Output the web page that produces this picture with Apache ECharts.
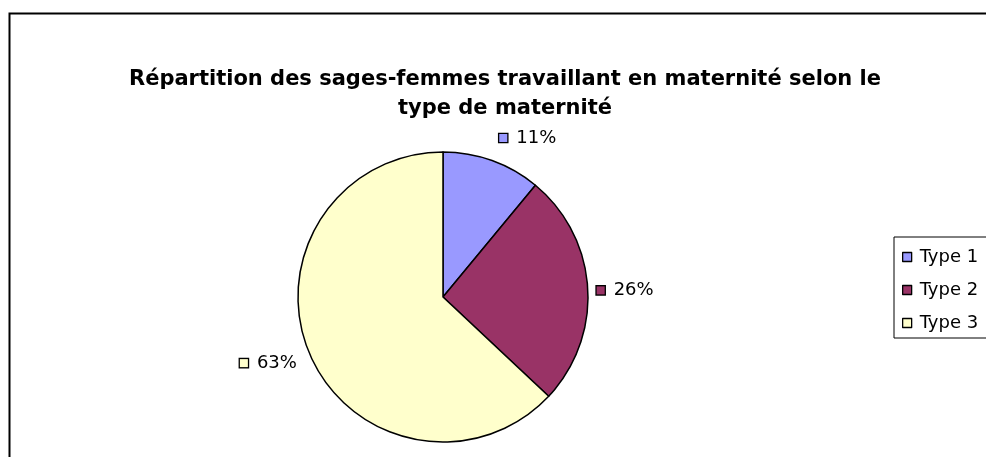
<!DOCTYPE html>
<html>
<head>
<meta charset="utf-8">
<script src="https://cdn.jsdelivr.net/npm/echarts@6/dist/echarts.min.js"></script>
<style>
  html, body { margin: 0; padding: 0; background: #fff; }
  #chart { width: 986px; height: 457px; }
</style>
</head>
<body>
<div id="chart"></div>
<script>
// chart data
const categories = ['Type 1', 'Type 2', 'Type 3'];
const shares = [11, 26, 63];
const colors = ['#9999FF', '#993366', '#FFFFCC'];
const titleText = 'Répartition des sages-femmes travaillant en maternité selon le\ntype de maternité';

const FONT = 'DejaVu Sans, sans-serif';

// Excel puts its labels a bit off the radial line, nudge them
const labelNudge = [[-6, 0], [-20, 4], [14, -1]];

const pieData = categories.map((name, i) => ({
  name: name,
  value: shares[i],
  itemStyle: { color: colors[i] },
  label: {
    formatter: '{k' + i + '|}{s|}{v|{c}%}'
  }
}));

// little legend-key squares inside the data labels
const richStyles = {
  v: { fontSize: 18, fontFamily: FONT, color: '#000' },
  s: { width: 9, height: 9 }
};
colors.forEach((c, i) => {
  richStyles['k' + i] = {
    width: 8, height: 8,
    backgroundColor: c,
    borderColor: '#000', borderWidth: 1.3
  };
});

const chart = echarts.init(document.getElementById('chart'), null, { renderer: 'canvas' });

chart.setOption({
  animation: false,
  backgroundColor: '#fff',
  title: {
    text: titleText,
    left: 500,
    top: 60,
    textAlign: 'center',
    textStyle: {
      fontFamily: FONT,
      fontSize: 21,
      fontWeight: 'bold',
      color: '#000',
      lineHeight: 29
    }
  },
  legend: {
    orient: 'vertical',
    left: 894,
    top: 237,
    padding: [11, 40, 6, 8],
    itemGap: 15,
    itemWidth: 9,
    itemHeight: 9,
    icon: 'rect',
    borderColor: '#000',
    borderWidth: 1,
    itemStyle: { borderColor: '#000', borderWidth: 1.3 },
    textStyle: { fontFamily: FONT, fontSize: 18, color: '#000', padding: [0, 0, 0, 3] },
    data: categories
  },
  graphic: [{
    type: 'rect',
    shape: { x: 9.5, y: 13.5, width: 1100, height: 600 },
    style: { fill: 'none', stroke: '#000', lineWidth: 2 },
    silent: true
  }],
  series: [{
    type: 'pie',
    center: [443, 297],
    radius: 145,
    startAngle: 90,
    clockwise: true,
    data: pieData,
    itemStyle: { borderColor: '#000', borderWidth: 1.5 },
    label: {
      show: true,
      position: 'outside',
      rich: richStyles
    },
    labelLine: { show: false, length: 24, length2: 0 },
    labelLayout: function (params) {
      const n = labelNudge[params.dataIndex];
      return { dx: n[0], dy: n[1] };
    },
    emphasis: { disabled: true }
  }]
});
</script>
</body>
</html>
